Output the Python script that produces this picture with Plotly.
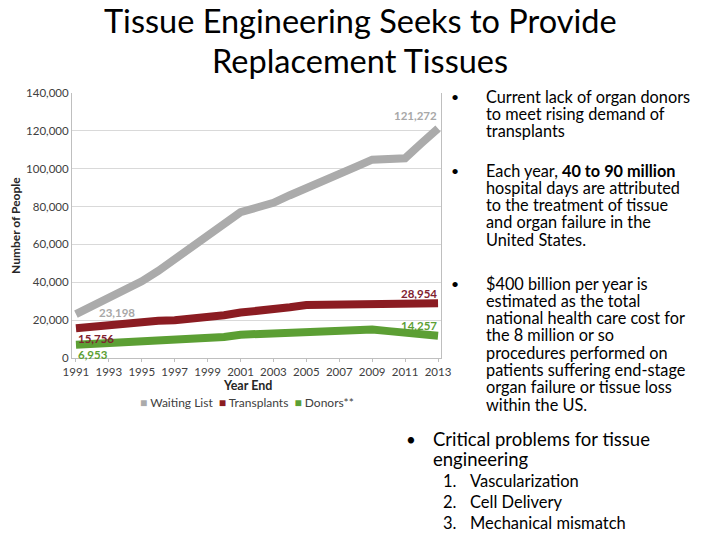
import plotly.graph_objects as go

years = list(range(1991, 2014))
waiting_list = [23198, 27500, 31500, 35500, 40500, 46000, 52000, 58500, 64500, 71000,
                77000, 79500, 82000, 86000, 90000, 93500, 97500, 101000, 104800, 105200,
                105500, 113500, 121272]
transplants = [15756, 16700, 17400, 18300, 19300, 19700, 20000, 20600, 21500, 22600,
               24000, 24600, 25300, 26800, 28000, 28200, 28300, 28400, 28500, 28600,
               28700, 28800, 28954]
donors = [6953, 7300, 7700, 8100, 8500, 8800, 9200, 9700, 10500, 11100,
          12300, 12700, 13200, 13800, 14400, 14500, 14600, 14800, 15000, 14200,
          13300, 12500, 11800]

series_names = ["Waiting List", "Transplants", "Donors**"]
series_colors = ["#ababab", "#8b1c22", "#5c9f34"]
label_colors = ["#a8a8a8", "#7f2130", "#5c9f34"]
start_labels = ["23,198", "15,756", "6,953"]
end_labels = ["121,272", "28,954", "14,257"]
x_ticks = list(range(1991, 2014, 2))
y_ticks = [0, 20000, 40000, 60000, 80000, 100000, 120000, 140000]

title_lines = ["Tissue Engineering Seeks to Provide", "Replacement Tissues"]
bullets_right = [
    ["Current lack of organ donors", "to meet rising demand of", "transplants"],
    ["Each year, <b>40 to 90 million</b>", "hospital days are attributed",
     "to the treatment of tissue", "and organ failure in the", "United States."],
    ["$400 billion per year is", "estimated as the total", "national health care cost for",
     "the 8 million or so", "procedures performed on", "patients suffering end-stage",
     "organ failure or tissue loss", "within the US."],
]
bottom_bullet = ["Critical problems for tissue", "engineering"]
numbered = ["Vascularization", "Cell Delivery", "Mechanical mismatch"]

FONT = "Lato"
W, H = 720, 540
OFF = 8  # page body margin


def px(x):
    return (x - OFF) / W


def py(y):
    return 1 - (y - OFF) / H


fig = go.Figure()
for vals, name, col in zip([waiting_list, transplants, donors], series_names, series_colors):
    fig.add_trace(go.Scatter(x=years, y=vals, mode="lines", name=name,
                             line=dict(color=col, width=8), showlegend=False))

ann = []
# data labels
all_series = [waiting_list, transplants, donors]
start_shift = [(21, 2, "left"), (0, -10, "left"), (0, -10, "left")]
for i, vals in enumerate(all_series):
    xs, ys, xa = start_shift[i]
    ann.append(dict(x=years[0], y=vals[0], xref="x", yref="y", text="<b>%s</b>" % start_labels[i],
                    showarrow=False, xanchor=xa, yanchor="middle", xshift=xs, yshift=ys,
                    font=dict(family=FONT, size=11.5, color=label_colors[i])))
    ann.append(dict(x=years[-1], y=vals[-1], xref="x", yref="y", text="<b>%s</b>" % end_labels[i],
                    showarrow=False, xanchor="right", yanchor="middle", xshift=1,
                    yshift=13 if i == 0 else 10,
                    font=dict(family=FONT, size=11.5, color=label_colors[i])))

# axis titles & legend
ann.append(dict(x=px(247), y=py(385), xref="paper", yref="paper", text="<b>Year End</b>",
                showarrow=False, xanchor="center", yanchor="middle",
                font=dict(family=FONT, size=12.5, color="#262626")))
ann.append(dict(x=px(16), y=py(226), xref="paper", yref="paper", text="<b>Number of People</b>",
                showarrow=False, textangle=-90, xanchor="center", yanchor="middle",
                font=dict(family=FONT, size=12, color="#262626")))
legend_txt = "&nbsp;&nbsp;".join(
    "<span style='color:%s'>■</span> %s" % (c, n) for c, n in zip(series_colors, series_names))
ann.append(dict(x=px(247), y=py(402), xref="paper", yref="paper", text=legend_txt,
                showarrow=False, xanchor="center", yanchor="middle",
                font=dict(family=FONT, size=12, color="#404040")))

# title
for i, t in enumerate(title_lines):
    ann.append(dict(x=px(360), y=py(21 + 40 * i), xref="paper", yref="paper", text=t,
                    showarrow=False, xanchor="center", yanchor="middle",
                    font=dict(family=FONT, size=32.5, color="#000000")))

# right bullets
starts = [96, 170, 283]
for b, lines in enumerate(bullets_right):
    y0 = starts[b]
    ann.append(dict(x=px(455), y=py(y0), xref="paper", yref="paper", text="•",
                    showarrow=False, xanchor="center", yanchor="middle",
                    font=dict(family=FONT, size=14, color="#000000")))
    for j, line in enumerate(lines):
        ann.append(dict(x=px(484), y=py(y0 + 17.3 * j), xref="paper", yref="paper", text=line,
                        showarrow=False, xanchor="left", yanchor="middle",
                        font=dict(family=FONT, size=16.3, color="#000000")))

# bottom bullet
ann.append(dict(x=px(411), y=py(439), xref="paper", yref="paper", text="•",
                showarrow=False, xanchor="center", yanchor="middle",
                font=dict(family=FONT, size=17, color="#000000")))
for j, line in enumerate(bottom_bullet):
    ann.append(dict(x=px(431), y=py(439 + 19.5 * j), xref="paper", yref="paper", text=line,
                    showarrow=False, xanchor="left", yanchor="middle",
                    font=dict(family=FONT, size=18.5, color="#000000")))
for j, line in enumerate(numbered):
    yy = 481 + 21 * j
    ann.append(dict(x=px(441), y=py(yy), xref="paper", yref="paper", text="%d." % (j + 1),
                    showarrow=False, xanchor="left", yanchor="middle",
                    font=dict(family=FONT, size=16.5, color="#000000")))
    ann.append(dict(x=px(468), y=py(yy), xref="paper", yref="paper", text=line,
                    showarrow=False, xanchor="left", yanchor="middle",
                    font=dict(family=FONT, size=16.5, color="#000000")))

fig.update_layout(
    width=W, height=H, margin=dict(l=0, r=0, t=0, b=0, pad=0, autoexpand=False),
    paper_bgcolor="white", plot_bgcolor="white",
    showlegend=False, annotations=ann,
    xaxis=dict(domain=[px(72), px(441)], range=[1990.76, 2013.18], tickvals=x_ticks,
               ticktext=[str(v) for v in x_ticks], showgrid=False, zeroline=False,
               showline=True, linecolor="#bfbfbf", linewidth=1, ticks="outside", ticklen=3,
               tickcolor="#bfbfbf", automargin=False,
               tickfont=dict(family=FONT, size=11.5, color="#404040")),
    yaxis=dict(domain=[py(358), py(93)], range=[0, 140000], tickvals=y_ticks,
               ticktext=["{:,}".format(v) for v in y_ticks], showgrid=True, gridcolor="#d9d9d9",
               gridwidth=1, zeroline=False, showline=True, mirror=True, linecolor="#bfbfbf",
               linewidth=1, ticks="", automargin=False,
               tickfont=dict(family=FONT, size=11.5, color="#404040")),
)

fig.write_html("out.html")
